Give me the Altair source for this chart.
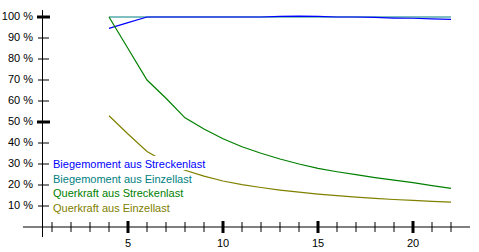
import altair as alt
import pandas as pd

# ---- data ----
x_vals = list(range(4, 23))
series_names = [
    "Biegemoment aus Einzellast",
    "Biegemoment aus Streckenlast",
    "Querkraft aus Streckenlast",
    "Querkraft aus Einzellast",
]
series_colors = ["#008080", "#0000FF", "#008000", "#808000"]
biege_einzel = [100] * 19
biege_strecke = [94.6, 97.3, 100, 100, 100, 100, 100, 100, 100, 100.3, 100.4, 100.3,
                 100, 100, 99.8, 99.5, 99.4, 99.1, 98.9]
quer_strecke = [100, 85, 70, 61.3, 52, 46.7, 42, 38.2, 35.1, 32.4, 30, 27.9,
                26.3, 24.9, 23.5, 22.3, 21.1, 19.7, 18.4]
quer_einzel = [53, 44.3, 36, 30.8, 27, 24.2, 21.9, 20.2, 18.8, 17.6, 16.6, 15.7,
               14.9, 14.2, 13.6, 13.1, 12.7, 12.2, 11.8]

legend_labels = ["Biegemoment aus Streckenlast", "Biegemoment aus Einzellast",
                 "Querkraft aus Streckenlast", "Querkraft aus Einzellast"]
legend_colors = ["#0000FF", "#008080", "#008000", "#808000"]

y_ticks = [10, 20, 30, 40, 50, 60, 70, 80, 90, 100]
y_major = [50, 100]
x_ticks = list(range(1, 23))
x_major = [5, 10, 15, 20]

FONT = "Liberation Sans"
W, H = 479, 252

# scales: x pixel = 33 + 19*v ; y pixel = 227 - 2.1*p
xs = alt.Scale(domain=[-33 / 19, (W - 33) / 19], nice=False, zero=False)
ys = alt.Scale(domain=[(227 - H) / 2.1, 227 / 2.1], nice=False, zero=False)

rows = []
for name, vals in zip(series_names, [biege_einzel, biege_strecke, quer_strecke, quer_einzel]):
    for xv, yv in zip(x_vals, vals):
        rows.append({"series": name, "x": xv, "y": yv})
df = pd.DataFrame(rows)

lines = alt.Chart(df).mark_line(strokeWidth=1.2, interpolate="linear").encode(
    x=alt.X("x:Q", scale=xs, axis=None),
    y=alt.Y("y:Q", scale=ys, axis=None),
    color=alt.Color("series:N", scale=alt.Scale(domain=series_names, range=series_colors), legend=None),
    order="x:Q",
)

# axis lines
yaxis = alt.Chart(pd.DataFrame({"x": [0.5], "y1": [103.3], "y2": [-4.8]})).mark_rule(
    color="black", strokeWidth=1).encode(
    x=alt.X("x:Q", scale=xs, axis=None), y=alt.Y("y1:Q", scale=ys, axis=None), y2="y2:Q")
xaxis = alt.Chart(pd.DataFrame({"y": [0], "x1": [-0.53], "x2": [23.0]})).mark_rule(
    color="black", strokeWidth=1).encode(
    y=alt.Y("y:Q", scale=ys, axis=None), x=alt.X("x1:Q", scale=xs, axis=None), x2="x2:Q")

ydf = pd.DataFrame({"v": y_ticks, "label": [f"{v} %" for v in y_ticks]})
ydf["major"] = ydf["v"].isin(y_major)
ytick_minor = alt.Chart(ydf[~ydf.major]).mark_rule(color="black", strokeWidth=1).encode(
    y=alt.Y("v:Q", scale=ys, axis=None), x=alt.value(38), x2=alt.value(49))
ytick_major = alt.Chart(ydf[ydf.major]).mark_rule(color="black", strokeWidth=3).encode(
    y=alt.Y("v:Q", scale=ys, axis=None), x=alt.value(37), x2=alt.value(50))
ylab = alt.Chart(ydf).mark_text(align="right", baseline="middle", font=FONT, fontSize=11,
                                color="black").encode(
    y=alt.Y("v:Q", scale=ys, axis=None), x=alt.value(33), text="label:N")

xdf = pd.DataFrame({"v": x_ticks})
xdf["major"] = xdf["v"].isin(x_major)
xtick_minor = alt.Chart(xdf[~xdf.major]).mark_rule(color="black", strokeWidth=1).encode(
    x=alt.X("v:Q", scale=xs, axis=None), y=alt.value(222), y2=alt.value(232))
xtick_major = alt.Chart(xdf[xdf.major]).mark_rule(color="black", strokeWidth=3).encode(
    x=alt.X("v:Q", scale=xs, axis=None), y=alt.value(221), y2=alt.value(233))
xlab = alt.Chart(pd.DataFrame({"v": x_major, "label": [str(v) for v in x_major]})).mark_text(
    align="center", baseline="middle", font=FONT, fontSize=11, color="black").encode(
    x=alt.X("v:Q", scale=xs, axis=None), y=alt.value(244), text="label:N")

# legend (text with white background boxes), one layer per row
leg_ty = [168, 183, 197, 212]
leg_top = [156, 171, 185, 200]
leg_right = [200, 185, 181, 165]
legend_layers = []
for lab, col, ty, top, right in zip(legend_labels, legend_colors, leg_ty, leg_top, leg_right):
    one = pd.DataFrame({"label": [lab]})
    legend_layers.append(alt.Chart(one).mark_rect(color="white").encode(
        x=alt.value(52), x2=alt.value(right), y=alt.value(top), y2=alt.value(top + 14)))
    legend_layers.append(alt.Chart(one).mark_text(
        align="left", baseline="alphabetic", font=FONT, fontSize=11, color=col).encode(
        x=alt.value(53), y=alt.value(ty), text="label:N"))

chart = alt.layer(
    yaxis, xaxis, ytick_minor, ytick_major, ylab, xtick_minor, xtick_major, xlab,
    lines, *legend_layers,
).properties(
    width=W, height=H, autosize=alt.AutoSizeParams(type="none"), padding=0,
    background="white",
).configure_view(stroke=None)

chart.save("out.html", embed_options={"renderer": "svg", "actions": False})
